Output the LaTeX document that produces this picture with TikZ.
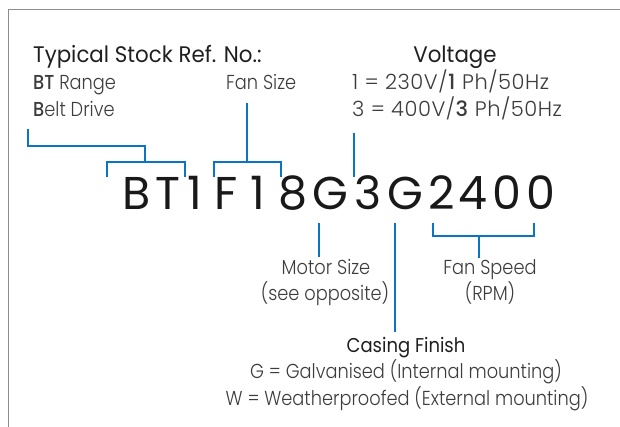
\documentclass[tikz,border=0pt]{standalone}
\usepackage{fontspec}
\setmainfont{Poppins}[UprightFont=* Light, BoldFont=* Medium, FakeStretch=0.88]
\newfontfamily\voltfont{Poppins}[UprightFont=* Light, BoldFont=* Medium, LetterSpace=2.5]
\newfontfamily\headfont{Poppins}[FakeStretch=0.95]
\newfontfamily\casingfont{Poppins}[FakeStretch=0.9]
\newfontfamily\codefont{Poppins}
\usetikzlibrary{positioning}
\definecolor{codeblue}{HTML}{0A75C2}
\definecolor{textgrey}{HTML}{3C3C3C}
\definecolor{framegrey}{HTML}{8C8C8C}

\begin{document}
\begin{tikzpicture}[
    x=1pt, y=-1pt,
    txt/.style={inner sep=0pt, text=textgrey, font=\fontsize{20.2}{24}\selectfont},
    volttxt/.style={txt, font=\fontsize{21}{24}\selectfont\voltfont},
    heading/.style={inner sep=0pt, text=black!88, font=\fontsize{22.5}{26}\selectfont\headfont},
    codechar/.style={inner sep=0pt, anchor=base, text=black!90, font=\fontsize{46}{50}\selectfont\codefont},
    bracket/.style={codeblue, line width=2.4pt}
]
\useasboundingbox (0,0) rectangle (620,427);

% frame
\draw[framegrey, line width=1pt] (620,10) -- (8,10) -- (8,427);

% headings and keys, top
\node[heading, anchor=base west] (title) at (33,63) {Typical Stock Ref. No.:};
\node[txt, anchor=base west] (range) at (33,90) {\textbf{BT} Range};
\node[txt, anchor=base west] (drive) at (33,117) {\textbf{B}elt Drive};
\node[txt, anchor=base west] (fansize) at (226,90) {Fan Size};
\node[heading, anchor=base] (voltage) at (455,63) {Voltage};
\node[volttxt, anchor=base west] (volt1) at (352,90) {1 = 230V/\textbf{1} Ph/50Hz};
\node[volttxt, anchor=base west] (volt3) at (352,117) {3 = 400V/\textbf{3} Ph/50Hz};

% the reference number
\foreach \ch/\cx [count=\i] in {B/137,T/168,1/195,F/226,1/258,8/293,G/330,3/368,G/405,2/442,4/473,0/507,0/541}{
    \node[codechar] (c\i) at (\cx,210) {\ch};
}

% keys, bottom
\node[txt, anchor=base] (motor) at (326,274) {Motor Size};
\node[txt, anchor=base] (opposite) at (325,300) {(see opposite)};
\node[txt, anchor=base] (speed) at (490,274) {Fan Speed};
\node[txt, anchor=base] (rpm) at (490,300) {(RPM)};
\node[heading, anchor=base, font=\fontsize{20}{24}\selectfont\casingfont] (casing) at (406,352) {Casing Finish};
\node[txt, anchor=base] (galv) at (406,378) {G = Galvanised (Internal mounting)};
\node[txt, anchor=base] (weather) at (407,405) {W = Weatherproofed (External mounting)};

% bracket ends
\coordinate (beltTop) at (28,129);
\coordinate (beltKnee) at (145,146);
\coordinate (btLeft) at (107,177);
\coordinate (btRight) at (185,177);
\coordinate (fanTop) at (247,103);
\coordinate (fanLeft) at (214,177);
\coordinate (fanRight) at (281,177);
\coordinate (voltTop) at (354,133);
\coordinate (voltEnd) at (354,177);
\coordinate (motorEnd) at (319,223);
\coordinate (motorTop) at (319,257);
\coordinate (casingEnd) at (395,223);
\coordinate (casingTop) at (395,332);
\coordinate (speedLeft) at (433,223);
\coordinate (speedRight) at (534,223);
\coordinate (speedStem) at (479,258);

% brackets above
\draw[bracket] (beltTop) |- (beltKnee) -- (beltKnee |- 0,162);
\draw[bracket] (btLeft) -- (btLeft |- 0,162) -- (btRight |- 0,162) -- (btRight);
\draw[bracket] (fanTop) -- (fanTop |- 0,162);
\draw[bracket] (fanLeft) -- (fanLeft |- 0,162) -- (fanRight |- 0,162) -- (fanRight);
\draw[bracket] (voltTop) -- (voltEnd);

% brackets below
\draw[bracket] (motorEnd) -- (motorTop);
\draw[bracket] (casingEnd) -- (casingTop);
\draw[bracket] (speedLeft) -- (speedLeft |- 0,236) -- (speedRight |- 0,236) -- (speedRight);
\draw[bracket] (speedStem |- 0,236) -- (speedStem);

\end{tikzpicture}
\end{document}
